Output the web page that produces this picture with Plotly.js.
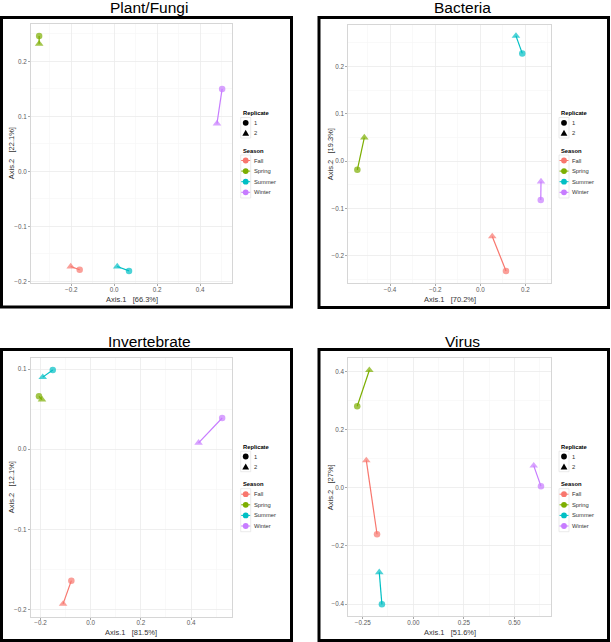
<!DOCTYPE html>
<html>
<head>
<meta charset="utf-8">
<script src="https://cdn.plot.ly/plotly-3.0.1.min.js"></script>
<style>html,body{margin:0;padding:0;background:#fff;}#chart{width:611px;height:642px;}</style>
</head>
<body>
<div id="chart"></div>
<script>
// ---------------- data ----------------
const seasons = ['Fall', 'Spring', 'Summer', 'Winter'];
const replicates = ['1', '2'];
const panelTitles = ['Plant/Fungi', 'Bacteria', 'Invertebrate', 'Virus'];
const axis1Labels = ['Axis.1   [66.3%]', 'Axis.1   [70.2%]', 'Axis.1   [81.5%]', 'Axis.1   [51.6%]'];
const axis2Labels = ['Axis.2   [22.1%]', 'Axis.2   [19.3%]', 'Axis.2   [12.1%]', 'Axis.2   [27%]'];

// Plant/Fungi  (order: Fall, Spring, Summer, Winter)
const plantRep1X = [-0.161, -0.350, 0.069, 0.503];
const plantRep1Y = [-0.179, 0.246, -0.181, 0.150];
const plantRep2X = [-0.203, -0.350, 0.014, 0.479];
const plantRep2Y = [-0.173, 0.232, -0.173, 0.087];

// Bacteria
const bactRep1X = [0.114, -0.545, 0.186, 0.268];
const bactRep1Y = [-0.232, -0.018, 0.228, -0.082];
const bactRep2X = [0.053, -0.514, 0.158, 0.269];
const bactRep2Y = [-0.159, 0.050, 0.265, -0.043];

// Invertebrate
const invRep1X = [-0.077, -0.206, -0.151, 0.524];
const invRep1Y = [-0.164, 0.066, 0.099, 0.039];
const invRep2X = [-0.110, -0.194, -0.191, 0.430];
const invRep2Y = [-0.193, 0.062, 0.090, 0.008];

// Virus
const virRep1X = [-0.179, -0.277, -0.155, 0.631];
const virRep1Y = [-0.160, 0.280, -0.401, 0.005];
const virRep2X = [-0.232, -0.217, -0.168, 0.595];
const virRep2Y = [0.094, 0.404, -0.291, 0.076];

// ---------------- styling / layout ----------------
const seasonColors = ['#F8766D', '#7CAE00', '#00BFC4', '#C77CFF'];
const W = 611, H = 642;
const FONT = 'Liberation Sans, Arial, Helvetica, sans-serif';
function px(x) { return x / W; }
function py(y) { return 1 - y / H; }

const panelData = [
  [plantRep1X, plantRep1Y, plantRep2X, plantRep2Y],
  [bactRep1X, bactRep1Y, bactRep2X, bactRep2Y],
  [invRep1X, invRep1Y, invRep2X, invRep2Y],
  [virRep1X, virRep1Y, virRep2X, virRep2Y]
];

const panels = [
  {plot: [31, 232, 24, 283], box: [1.5, 291.5, 17.5, 307], titleAt: [149, 7.5], legendAt: [240.7, 113],
   xtAt: 299, ytAt: 11.7,
   xr: [-0.388, 0.549], yr: [-0.203, 0.268], xd: 0.2, yd: 0.1, xf: '.1f', yf: '.1f'},
  {plot: [348.3, 550.7, 25, 283.3], box: [319, 608.5, 17.5, 307.5], titleAt: [462, 7.5], legendAt: [559, 113],
   xtAt: 299.3, ytAt: 330,
   xr: [-0.585, 0.312], yr: [-0.258, 0.288], xd: 0.2, yd: 0.1, xf: '.1f', yf: '.1f'},
  {plot: [30.7, 231.7, 358.3, 616.7], box: [1.5, 291.5, 349.5, 640.5], titleAt: [149, 341], legendAt: [240.7, 446.7],
   xtAt: 632.7, ytAt: 11.7,
   xr: [-0.239, 0.562], yr: [-0.209, 0.1135], xd: 0.2, yd: 0.1, xf: '.1f', yf: '.1f'},
  {plot: [348.3, 550.7, 358.3, 616], box: [319, 608.5, 349.5, 640.5], titleAt: [462, 341], legendAt: [559, 446.7],
   xtAt: 632, ytAt: 330,
   xr: [-0.321, 0.679], yr: [-0.441, 0.445], xd: 0.25, yd: 0.2, xf: '.2f', yf: '.1f'}
];

const traces = [];
const annotations = [];
const shapes = [];

function nb(s) { return s.replace(/ /g, '\u00a0'); }

panels.forEach((p, i) => {
  const n = i === 0 ? '' : String(i + 1);
  const [r1x, r1y, r2x, r2y] = panelData[i];
  seasons.forEach((s, k) => {
    traces.push({
      type: 'scatter', mode: 'lines+markers',
      x: [r1x[k], r2x[k]], y: [r1y[k], r2y[k]],
      xaxis: 'x' + n, yaxis: 'y' + n,
      name: s, showlegend: false,
      line: {color: seasonColors[k], width: 1.2},
      marker: {color: seasonColors[k], symbol: ['circle', 'triangle-up'], size: [6.5, 7.5], line: {width: 0}},
      hoverinfo: 'x+y+name'
    });
  });
});

const layout = {
  width: W, height: H,
  margin: {l: 0, r: 0, t: 0, b: 0},
  paper_bgcolor: '#ffffff', plot_bgcolor: '#ffffff',
  showlegend: false,
  font: {family: FONT, color: '#4d4d4d'},
  annotations: annotations,
  shapes: shapes
};

panels.forEach((p, i) => {
  const n = i === 0 ? '' : String(i + 1);
  const [l, r, t, b] = p.plot;
  const common = {
    showline: true, mirror: true, linecolor: '#d6d6d6', linewidth: 1,
    ticks: 'outside', ticklen: 2, tickwidth: 1, tickcolor: '#a8a8a8',
    tickfont: {family: FONT, size: 6.3, color: '#5a5a5a'},
    showgrid: true, gridcolor: '#ebebeb', gridwidth: 0.8,
    zeroline: false, fixedrange: true
  };
  layout['xaxis' + n] = Object.assign({}, common, {
    domain: [px(l), px(r)], anchor: 'y' + n,
    range: p.xr, tick0: 0, dtick: p.xd, tickformat: p.xf, ticklabelstandoff: -2,
    minor: {dtick: p.xd / 2, tick0: 0, showgrid: true, gridcolor: '#f5f5f5', gridwidth: 0.6}
  });
  layout['yaxis' + n] = Object.assign({}, common, {
    domain: [py(b), py(t)], anchor: 'x' + n,
    range: p.yr, tick0: 0, dtick: p.yd, tickformat: p.yf,
    minor: {dtick: p.yd / 2, tick0: 0, showgrid: true, gridcolor: '#f5f5f5', gridwidth: 0.6}
  });

  // axis titles
  annotations.push({
    xref: 'paper', yref: 'paper', x: px((l + r) / 2), y: py(p.xtAt),
    xanchor: 'center', yanchor: 'middle', showarrow: false, borderpad: 0,
    text: nb(axis1Labels[i]), font: {family: FONT, size: 7.5, color: '#333333'}
  });
  annotations.push({
    xref: 'paper', yref: 'paper', x: px(p.ytAt), y: py((t + b) / 2),
    xanchor: 'center', yanchor: 'middle', showarrow: false, textangle: -90, borderpad: 0,
    text: nb(axis2Labels[i]), font: {family: FONT, size: 7.5, color: '#333333'}
  });

  // panel title
  annotations.push({
    xref: 'paper', yref: 'paper', x: px(p.titleAt[0]), y: py(p.titleAt[1]),
    xanchor: 'center', yanchor: 'middle', showarrow: false, borderpad: 0,
    text: panelTitles[i], font: {family: FONT, size: 15.5, color: '#000000'}
  });

  // black frame
  const [bl, br, bt, bb] = p.box;
  shapes.push({type: 'rect', xref: 'paper', yref: 'paper',
    x0: px(bl), x1: px(br), y0: py(bb), y1: py(bt),
    line: {color: '#000000', width: 3}, fillcolor: 'rgba(0,0,0,0)', layer: 'above'});

  // legend (drawn manually to match ggplot compact key spacing)
  const [lx, ly] = p.legendAt;
  const kx = lx + 5;
  const tx = lx + 11;
  const lf = {family: FONT, size: 5.8, color: '#333333'};
  const tf = {family: FONT, size: 5.8, color: '#000000'};
  function txt(x, y, s, f) {
    annotations.push({xref: 'paper', yref: 'paper', x: px(x), y: py(y), xanchor: 'left', yanchor: 'middle',
      showarrow: false, text: s, font: f});
  }
  function circ(cx, cy, rr, col) {
    shapes.push({type: 'circle', xref: 'paper', yref: 'paper',
      x0: px(cx - rr), x1: px(cx + rr), y0: py(cy + rr), y1: py(cy - rr),
      fillcolor: col, line: {width: 0}});
  }
  function tri(cx, cy, s, col) {
    const h = s * 0.9;
    shapes.push({type: 'path', xref: 'paper', yref: 'paper',
      path: 'M ' + px(cx - s / 2) + ',' + py(cy + h / 2) + ' L ' + px(cx + s / 2) + ',' + py(cy + h / 2) +
            ' L ' + px(cx) + ',' + py(cy - h / 2) + ' Z',
      fillcolor: col, line: {width: 0}});
  }
  function keybox(y0, y1) {
    shapes.push({type: 'rect', xref: 'paper', yref: 'paper',
      x0: px(kx - 5), x1: px(kx + 5), y0: py(y1), y1: py(y0),
      line: {color: '#e3e3e3', width: 0.7}, fillcolor: 'rgba(0,0,0,0)'});
  }
  txt(lx, ly, '<b>Replicate</b>', tf);
  keybox(ly + 4.5, ly + 25);
  circ(kx, ly + 9.8, 2.9, '#000000');
  txt(tx, ly + 9.8, replicates[0], lf);
  tri(kx, ly + 19.8, 6.8, '#000000');
  txt(tx, ly + 19.8, replicates[1], lf);
  txt(lx, ly + 37.7, '<b>Season</b>', tf);
  keybox(ly + 42, ly + 85);
  seasons.forEach((s, k) => {
    const yy = ly + 47.5 + k * 10.6;
    shapes.push({type: 'line', xref: 'paper', yref: 'paper', x0: px(kx - 4.5), x1: px(kx + 4.5),
      y0: py(yy), y1: py(yy), line: {color: seasonColors[k], width: 1}});
    circ(kx, yy, 2.9, seasonColors[k]);
    txt(tx, yy, s, lf);
  });
});

Plotly.newPlot('chart', traces, layout, {displayModeBar: false, staticPlot: true});
</script>
</body>
</html>
